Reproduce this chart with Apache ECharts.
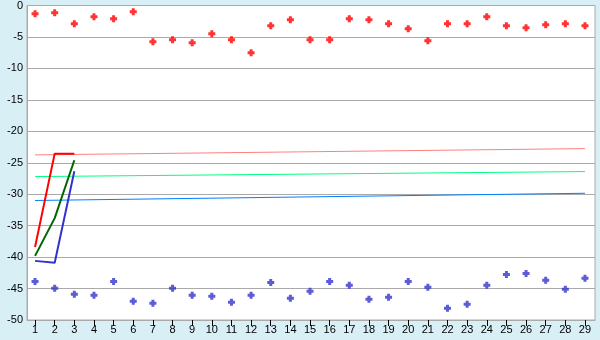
<!DOCTYPE html>
<html><head><meta charset="utf-8">
<script src="https://cdn.jsdelivr.net/npm/echarts@6/dist/echarts.min.js"></script>
<style>html,body{margin:0;padding:0;background:#d9eff6;}#c{width:600px;height:340px;}</style>
</head><body><div id="c"></div>
<script>
var categories = [1,2,3,4,5,6,7,8,9,10,11,12,13,14,15,16,17,18,19,20,21,22,23,24,25,26,27,28,29];
var yTicks = [0,-5,-10,-15,-20,-25,-30,-35,-40,-45,-50];
var redPoints = [-1.32,-1.16,-2.9,-1.8,-2.1,-1.0,-5.77,-5.45,-5.93,-4.5,-5.45,-7.5,-3.2,-2.27,-5.45,-5.45,-2.1,-2.27,-2.9,-3.7,-5.6,-2.9,-2.9,-1.8,-3.2,-3.55,-3.07,-2.9,-3.2];
var bluePoints = [-43.86,-44.97,-45.92,-46.08,-43.86,-47.03,-47.35,-44.97,-46.08,-46.24,-47.19,-46.08,-44.02,-46.56,-45.44,-43.86,-44.49,-46.71,-46.4,-43.86,-44.8,-48.14,-47.5,-44.49,-42.75,-42.6,-43.7,-45.13,-43.38];
var redLine = [-38.4,-23.55,-23.55];
var greenLine = [-39.8,-33.8,-24.6];
var blueLine = [-40.6,-40.9,-26.35];
var lineCats = [1,2,3];
var pinkTrend = [-23.75,-22.75];
var greenTrend = [-27.2,-26.4];
var blueTrend = [-31.0,-29.85];
var trendCats = [1,29];

function pairs(xs, ys){ return ys.map(function(v,i){ return [xs[i], v]; }); }
var plus = 'path://M2,0H5V2H7V5H5V7H2V5H0V2H2Z';
var font = {fontFamily:'Liberation Sans', fontSize:11, color:'#000'};
var chart = echarts.init(document.getElementById('c'), null, {renderer:'canvas'});
chart.setOption({
  animation:false,
  backgroundColor:'#d9eff6',
  grid:{left:27, right:5, top:5, bottom:20, show:true, backgroundColor:'#fff', borderColor:'#aaa', borderWidth:1},
  xAxis:{type:'value', min:0.59, max:29.51,
    axisLine:{show:true, onZero:false, lineStyle:{color:'#aaa'}},
    axisTick:{show:true, length:6, lineStyle:{color:'#000'}, customValues:categories},
    axisLabel:Object.assign({margin:4, customValues:categories}, font),
    splitLine:{show:false}},
  yAxis:{type:'value', min:-50, max:0, interval:5,
    axisLine:{show:true, lineStyle:{color:'#aaa'}},
    axisTick:{show:false},
    axisLabel:Object.assign({margin:4}, font),
    splitLine:{show:true, lineStyle:{color:'#aaa', width:1}}},
  series:[
    {type:'line', data:pairs(trendCats,pinkTrend), symbol:'none', lineStyle:{color:'#ff8080', width:1}},
    {type:'line', data:pairs(trendCats,greenTrend), symbol:'none', lineStyle:{color:'#00ff80', width:1}},
    {type:'line', data:pairs(trendCats,blueTrend), symbol:'none', lineStyle:{color:'#0080ff', width:1}},
    {type:'line', data:pairs(lineCats,redLine), symbol:'none', lineStyle:{color:'#ff0000', width:2}},
    {type:'line', data:pairs(lineCats,greenLine), symbol:'none', lineStyle:{color:'#006600', width:2}},
    {type:'line', data:pairs(lineCats,blueLine), symbol:'none', lineStyle:{color:'#3333cc', width:2}},
    {type:'scatter', data:pairs(categories,redPoints), symbol:plus, symbolSize:7, itemStyle:{color:'#ff0000'}},
    {type:'scatter', data:pairs(categories,bluePoints), symbol:plus, symbolSize:7, itemStyle:{color:'#3333cc'}}
  ]
});
</script></body></html>
